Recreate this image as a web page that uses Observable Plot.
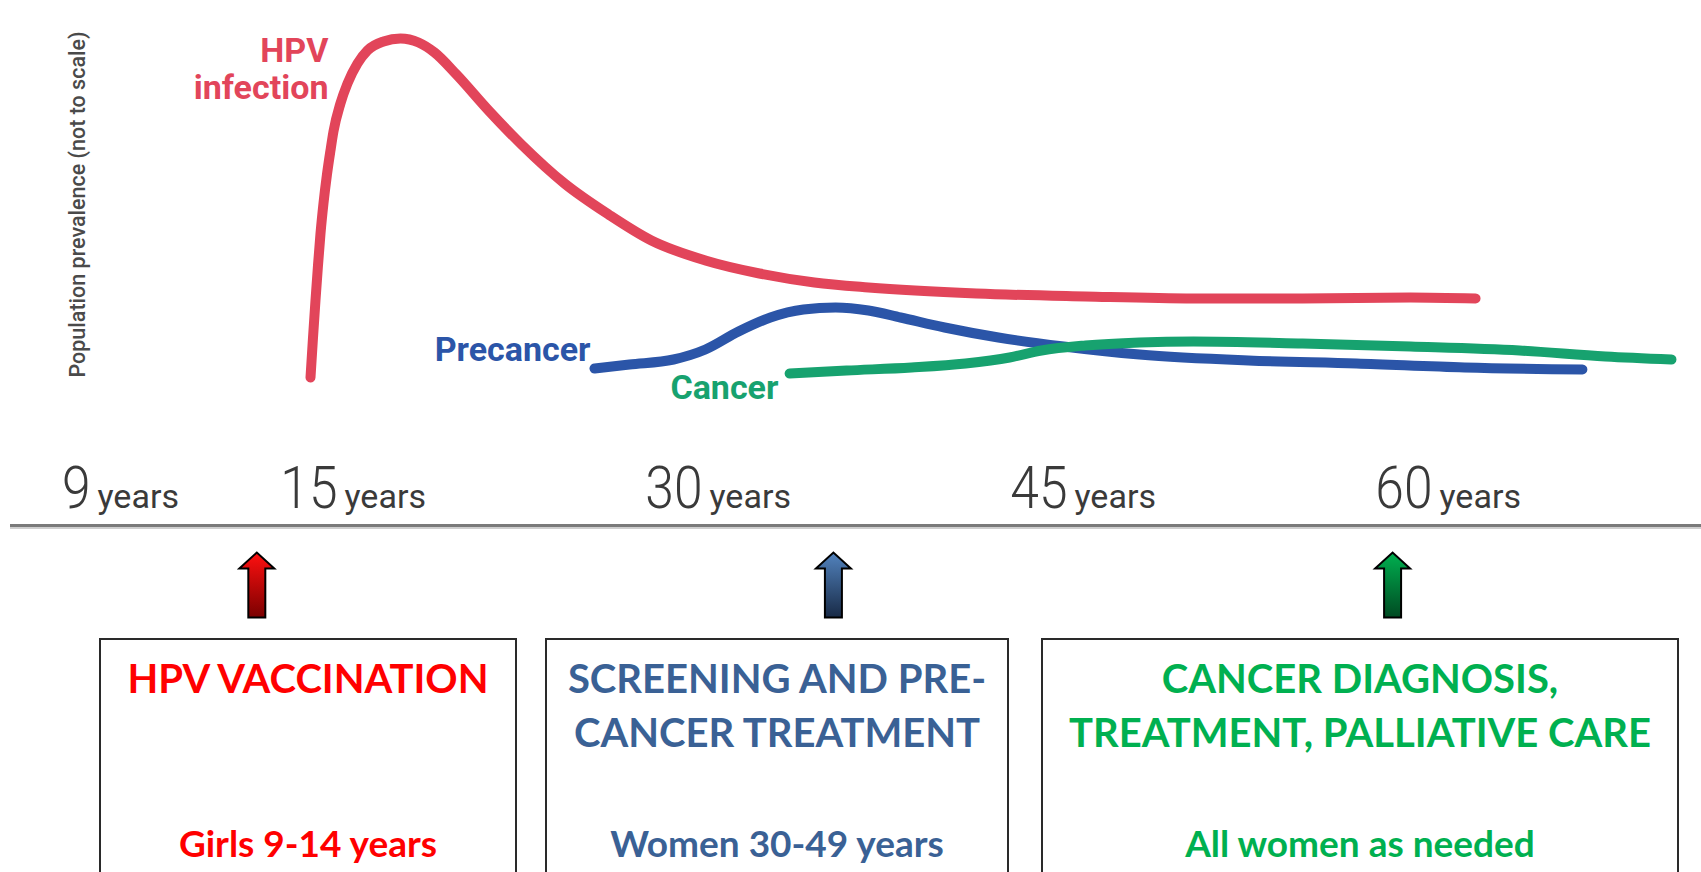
<!DOCTYPE html>
<html>
<head>
<meta charset="utf-8">
<script src="https://cdn.jsdelivr.net/npm/d3@7"></script>
<script src="https://cdn.jsdelivr.net/npm/@observablehq/plot@0.6"></script>
<style>
  html, body { margin: 0; padding: 0; background: #ffffff; overflow: hidden; }
  #wrap { position: relative; width: 1701px; height: 872px; overflow: hidden; background: #fff; }
  #chart { position: absolute; left: 0; top: 0; }
  .box { position: absolute; top: 638px; height: 260px; border: 2px solid #2a2a2a; box-sizing: border-box; background: #fff; }
  .box .title, .box .sub { position: absolute; left: 0; right: 0; text-align: center; font-family: Lato, "Open Sans", sans-serif; font-weight: 700; white-space: pre; }
  .box .title { top: 11px; font-size: 40px; line-height: 54px; }
  .box .sub { top: 176px; font-size: 37px; line-height: 54px; }
</style>
</head>
<body>
<svg width="0" height="0" style="position:absolute">
  <defs>
    <linearGradient id="gRed" x1="0" y1="0" x2="0" y2="1">
      <stop offset="0" stop-color="#ff1010"/><stop offset="1" stop-color="#7a0000"/>
    </linearGradient>
    <linearGradient id="gBlue" x1="0" y1="0" x2="0" y2="1">
      <stop offset="0" stop-color="#5283be"/><stop offset="1" stop-color="#182a46"/>
    </linearGradient>
    <linearGradient id="gGreen" x1="0" y1="0" x2="0" y2="1">
      <stop offset="0" stop-color="#00b050"/><stop offset="1" stop-color="#004a22"/>
    </linearGradient>
  </defs>
</svg>
<div id="wrap"><div id="chart"></div></div>
<script>
// ---- data (age in years, prevalence in relative units, not to scale) ----
const hpvAge   = [14.344, 14.405, 14.465, 14.526, 14.587, 14.659, 14.744, 14.829, 14.902, 15.12, 15.41, 15.82, 16.23, 16.89, 17.59, 18.33, 18.99, 19.89, 21.21, 22.56, 24.33, 26.14, 27.90, 30.12, 32.34, 34.60, 36.82, 41.26, 45.74, 50.18, 54.66, 59.10, 61.77];
const hpvValue = [5.75, 15.75, 25, 33.75, 41.75, 49.25, 56.5, 62.5, 67.25, 74.25, 79.25, 84.25, 87.5, 89.75, 90.5, 89.5, 87, 81.5, 72.5, 64, 54.25, 46.5, 40, 35, 31.75, 29.5, 28.25, 26.75, 26, 25.5, 25.5, 25.75, 25.5];

const precancerAge   = [25.56, 27.0, 28.81, 30.12, 31.48, 32.79, 34.15, 35.47, 36.82, 38.14, 39.95, 42.16, 44.84, 47.96, 52.44, 56.88, 61.32, 66.16];
const precancerValue = [8, 9, 10.25, 12.75, 17.25, 20.75, 22.75, 23.25, 22.5, 20.75, 18.25, 15.75, 13.5, 11.5, 10, 9.25, 8.25, 7.75];

const cancerAge   = [33.58, 35.92, 38.59, 40.81, 42.62, 43.93, 45.74, 47.96, 50.18, 54.66, 59.10, 63.58, 67.11, 69.82];
const cancerValue = [6.75, 7.5, 8.25, 9.25, 10.75, 12.5, 13.75, 14.5, 14.75, 14.25, 13.5, 12.5, 11, 10.25];

const seriesNames  = ["HPV infection", "Precancer", "Cancer"];
const seriesColors = ["#e2455a", "#2b55a8", "#17a26f"];
const labelText  = ["HPV\ninfection", "Precancer", "Cancer"];
const labelAge   = [14.78, 25.4, 33.12];
const labelValue = [91.25, 16.5, 7];

const tickAges  = [9, 15, 30, 45, 60];
const tickUnit  = "years";
const yLabel    = "Population prevalence (not to scale)";

const arrowAges = [13.04, 35.38, 58.36];
const arrowFill = ["url(#gRed)", "url(#gBlue)", "url(#gGreen)"];

const boxTitles    = ["HPV VACCINATION", "SCREENING AND PRE-\nCANCER TREATMENT", "CANCER DIAGNOSIS,\nTREATMENT, PALLIATIVE CARE"];
const boxSubtitles = ["Girls 9-14 years", "Women 30-49 years", "All women as needed"];
const boxColors    = ["#ff0000", "#3a6195", "#00b050"];

// ---- build tables ----
const toRows = (ages, vals, name) => ages.map((a, i) => ({age: a, value: vals[i], series: name}));
const curves = [
  toRows(hpvAge, hpvValue, seriesNames[0]),
  toRows(precancerAge, precancerValue, seriesNames[1]),
  toRows(cancerAge, cancerValue, seriesNames[2])
];
const labels = labelText.map((t, i) => ({text: t, age: labelAge[i], value: labelValue[i], color: seriesColors[i]}));

const blockArrow = {
  draw(ctx, l) {
    const hw = 17.5, sw = 8.5, hh = 16;
    ctx.moveTo(-sw, 0);
    ctx.lineTo(-sw, -(l - hh));
    ctx.lineTo(-hw, -(l - hh));
    ctx.lineTo(0, -l);
    ctx.lineTo(hw, -(l - hh));
    ctx.lineTo(sw, -(l - hh));
    ctx.lineTo(sw, 0);
    ctx.closePath();
  }
};

const chart = Plot.plot({
  width: 1701,
  height: 640,
  marginLeft: 11,
  marginRight: 0,
  marginTop: 0,
  marginBottom: 115,
  style: {background: "transparent", overflow: "visible"},
  x: {type: "linear", domain: [9, 15, 60], range: [90, 337, 1432], axis: null},
  y: {domain: [0, 100], range: [400, 0], axis: null},
  marks: [
    Plot.frame({anchor: "bottom", stroke: "#cfcfcf", strokeWidth: 3, dy: 2}),
    Plot.frame({anchor: "bottom", stroke: "#7a7a7a", strokeWidth: 3}),
    ...curves.map((rows, i) => Plot.line(rows, {
      x: "age", y: "value", stroke: seriesColors[i], strokeWidth: 10,
      curve: "monotone-x", strokeLinecap: "round", strokeLinejoin: "round"
    })),
    Plot.text(labels, {
      x: "age", y: "value", text: "text", fill: "color",
      textAnchor: "end", lineAnchor: "top", lineHeight: 1.09,
      fontSize: 34, fontWeight: 700, fontFamily: "Roboto, sans-serif"
    }),
    Plot.text([yLabel], {
      x: () => 8.71, y: () => 49, text: d => d, rotate: -90,
      textAnchor: "middle", lineAnchor: "middle",
      fontSize: 21.5, fontWeight: 500, fill: "#4a4a4a", fontFamily: "Roboto, sans-serif"
    }),
    Plot.text(tickAges, {
      x: d => d, text: d => String(d), frameAnchor: "bottom", dy: -18,
      textAnchor: "end", lineAnchor: "bottom",
      fontSize: 60, fontWeight: 300, fill: "#3a3a3a", fontFamily: "Roboto, sans-serif"
    }),
    Plot.text(tickAges, {
      x: d => d, text: () => tickUnit, frameAnchor: "bottom", dy: -18, dx: 7,
      textAnchor: "start", lineAnchor: "bottom",
      fontSize: 34, fontWeight: 400, fill: "#3a3a3a", fontFamily: "Roboto, sans-serif"
    }),
    ...arrowAges.map((a, i) => Plot.vector([a], {
      x: d => d, frameAnchor: "bottom", dy: 92, length: 65, anchor: "start",
      shape: blockArrow, stroke: "#000", strokeWidth: 2, fill: arrowFill[i], strokeLinejoin: "miter"
    }))
  ]
});
document.getElementById("chart").appendChild(chart);

// condensed look for the tick numbers (horizontal compression of glyphs)
const tickStrings = tickAges.map(String);
chart.querySelectorAll("text").forEach(t => {
  if (tickStrings.includes(t.textContent)) {
    const len = t.getComputedTextLength();
    if (len > 0) {
      t.setAttribute("textLength", (len * 0.86).toFixed(1));
      t.setAttribute("lengthAdjust", "spacingAndGlyphs");
    }
  }
});

// ---- boxes below the axis ----
const boxLeft  = [99, 545, 1041];
const boxRight = [517, 1009, 1679];
const wrap = document.getElementById("wrap");
boxTitles.forEach((t, i) => {
  const b = document.createElement("div");
  b.className = "box";
  b.style.left = boxLeft[i] + "px";
  b.style.width = (boxRight[i] - boxLeft[i]) + "px";
  const ti = document.createElement("div");
  ti.className = "title"; ti.textContent = t; ti.style.color = boxColors[i];
  const su = document.createElement("div");
  su.className = "sub"; su.textContent = boxSubtitles[i]; su.style.color = boxColors[i];
  b.appendChild(ti); b.appendChild(su);
  wrap.appendChild(b);
});
</script>
</body>
</html>
